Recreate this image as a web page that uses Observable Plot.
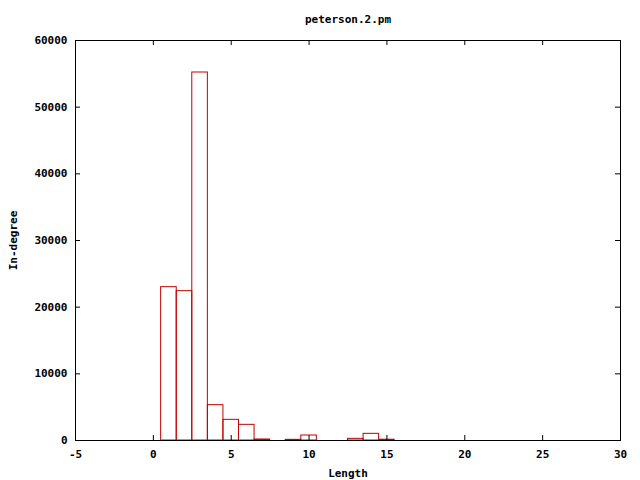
<!DOCTYPE html>
<html>
<head>
<meta charset="utf-8">
<script src="https://cdn.jsdelivr.net/npm/d3@7"></script>
<script src="https://cdn.jsdelivr.net/npm/@observablehq/plot@0.6"></script>
<style>
  html, body { margin: 0; padding: 0; background: #fff; }
</style>
</head>
<body>
<div id="chart"></div>
<script>
const title = "peterson.2.pm";
const xLabel = "Length";
const yLabel = "In-degree";
const lengths = [1, 2, 3, 4, 5, 6, 7, 9, 10, 13, 14, 15];
const counts = [23000, 22400, 55200, 5300, 3100, 2350, 150, 100, 750, 250, 1000, 120];
const xTicks = [-5, 0, 5, 10, 15, 20, 25, 30];
const yTicks = [0, 10000, 20000, 30000, 40000, 50000, 60000];

const bars = lengths.map((l, i) => ({x1: l - 0.5, x2: l + 0.5, v: counts[i]}));

const chart = Plot.plot({
  width: 640,
  height: 480,
  marginLeft: 75,
  marginRight: 20,
  marginTop: 40,
  marginBottom: 40,
  style: {fontFamily: "'DejaVu Sans Mono', monospace", fontWeight: "bold", fontSize: "11px", color: "black", background: "white"},
  x: {domain: [-5, 30]},
  y: {domain: [0, 60000]},
  marks: [
    Plot.rectY(bars, {x1: "x1", x2: "x2", y1: 0, y2: "v", fill: "none", stroke: "#c40000", strokeWidth: 1}),
    Plot.tickX(xTicks, {x: d => d, insetTop: 395, stroke: "black"}),
    Plot.tickX(xTicks, {x: d => d, insetBottom: 395, stroke: "black"}),
    Plot.tickY(yTicks, {y: d => d, insetRight: 540, stroke: "black"}),
    Plot.tickY(yTicks, {y: d => d, insetLeft: 540, stroke: "black"}),
    Plot.frame({stroke: "black", strokeOpacity: 1}),
    Plot.axisX({ticks: xTicks, tickSize: 0, tickPadding: 10, tickFormat: d => String(d),
      label: xLabel, labelAnchor: "center", labelArrow: "none", labelOffset: 36}),
    Plot.axisY({ticks: yTicks, tickSize: 0, tickPadding: 8, tickFormat: d => String(d),
      label: yLabel, labelAnchor: "center", labelArrow: "none", labelOffset: 66}),
    Plot.text([title], {frameAnchor: "top", dy: -25, fontSize: 11, fontWeight: "bold"})
  ]
});
document.getElementById("chart").appendChild(chart);
</script>
</body>
</html>
